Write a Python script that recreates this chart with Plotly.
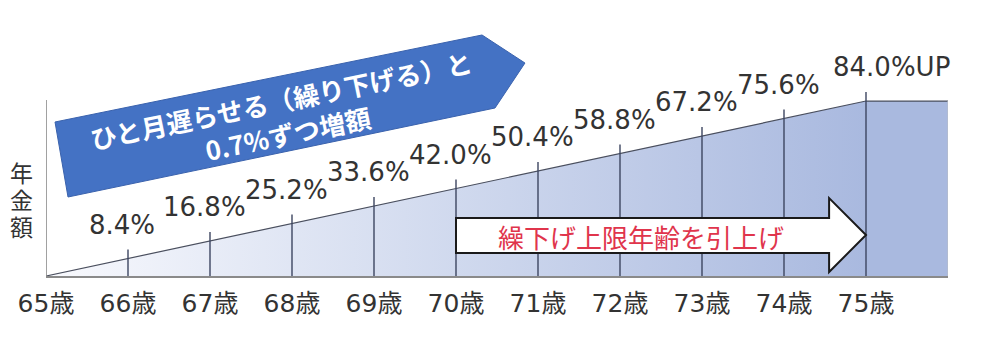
import plotly.graph_objects as go

ages = [65, 66, 67, 68, 69, 70, 71, 72, 73, 74, 75]
end_age = 76
values = [0, 8.4, 16.8, 25.2, 33.6, 42.0, 50.4, 58.8, 67.2, 75.6, 84.0]
tick_text = [f"{a}歳" for a in ages]
pct_labels = ["8.4%", "16.8%", "25.2%", "33.6%", "42.0%", "50.4%",
              "58.8%", "67.2%", "75.6%", "84.0%UP"]
banner_text = "ひと月遅らせる（繰り下げる）と<br>0.7%ずつ増額"
arrow_text = "繰下げ上限年齢を引上げ"
ytitle_chars = ["年", "金", "額"]

W, H = 988, 348
L, R, T, B = 46, 40, 0, 72
YMAX = 132.5

FONT = "DejaVu Sans, Noto Sans CJK JP, sans-serif"
CJK = "Noto Sans CJK JP, sans-serif"

fig = go.Figure()

# filled area with gradient
fx = ages + [end_age]
fy = values + [values[-1]]
fig.add_trace(go.Scatter(
    x=fx, y=fy, mode="lines", fill="tozeroy",
    line=dict(color="#4a4f5e", width=1.2),
    fillgradient=dict(type="horizontal", start=65, stop=75,
                      colorscale=[[0, "#f8f9fd"], [0.5, "#d0d9ee"], [1, "#a9b9df"]]),
    hoverinfo="skip", showlegend=False))

# right edge of area
fig.add_trace(go.Scatter(x=[end_age, end_age], y=[0, values[-1]], mode="lines",
                         line=dict(color="#b8bcc8", width=1.2),
                         hoverinfo="skip", showlegend=False))

# vertical lines at each year
vx, vy = [], []
for a, v in zip(ages[1:], values[1:]):
    vx += [a, a, None]
    vy += [0, v + 4.3, None]
fig.add_trace(go.Scatter(x=vx, y=vy, mode="lines",
                         line=dict(color="#3d4560", width=1.4),
                         hoverinfo="skip", showlegend=False))

# y axis line
fig.add_trace(go.Scatter(x=[65, 65], y=[0, 84.5], mode="lines",
                         line=dict(color="#8a8a8a", width=1.6),
                         hoverinfo="skip", showlegend=False))

# percentage labels
for i, (a, v, t) in enumerate(zip(ages[1:], values[1:], pct_labels)):
    last = i == len(pct_labels) - 1
    fig.add_annotation(x=a, y=v, text=t, showarrow=False,
                       xanchor="left" if last else "center", yanchor="middle",
                       xshift=-35 if last else -6, yshift=34,
                       font=dict(family=FONT, size=26, color="#333333"))

def px2paper(px, py):
    return (px - L) / (W - L - R), (H - B - py) / (H - T - B)

# blue banner
pts = [(55, 122), (482, 35), (525, 63), (495, 108), (68, 197)]
pp = [px2paper(*p) for p in pts]
path = "M " + " L ".join(f"{x:.4f},{y:.4f}" for x, y in pp) + " Z"
fig.add_shape(type="path", path=path, xref="paper", yref="paper",
              fillcolor="#4472c4", line=dict(color="#3a62ad", width=1), layer="above")
bx, by = px2paper(284, 116)
fig.add_annotation(x=bx, y=by, xref="paper", yref="paper", text=banner_text,
                   showarrow=False, textangle=-11.6, xanchor="center", yanchor="middle",
                   font=dict(family=CJK, size=26, color="white", weight="bold"))

# white arrow (age 70 -> 75)
ax0, ahead, atip = 70, 74.55, 75
btop, bbot, htop, hbot, tipy = 27.8, 11.0, 37.4, 1.9, 19.7
apath = (f"M {ax0},{btop} L {ahead},{btop} L {ahead},{htop} L {atip},{tipy} "
         f"L {ahead},{hbot} L {ahead},{bbot} L {ax0},{bbot} Z")
fig.add_shape(type="path", path=apath, xref="x", yref="y",
              fillcolor="white", line=dict(color="#1a1a1a", width=2), layer="above")
fig.add_annotation(x=72.26, y=19.0, text=arrow_text, showarrow=False,
                   font=dict(family=CJK, size=26, color="#e0354c"))

# y title (vertical, one character per line)
for k, ch in enumerate(ytitle_chars):
    tx, ty = px2paper(21, 172 + 27 * k)
    fig.add_annotation(x=tx, y=ty, xref="paper", yref="paper", text=ch,
                       showarrow=False, xanchor="center", yanchor="middle",
                       font=dict(family=CJK, size=23, color="#333333"))

fig.update_layout(
    width=W, height=H, margin=dict(l=L, r=R, t=T, b=B),
    paper_bgcolor="white", plot_bgcolor="white", showlegend=False,
    xaxis=dict(range=[65, end_age], tickmode="array", tickvals=ages, ticktext=tick_text,
               showgrid=False, zeroline=False, showline=True, linecolor="#8a8a8a",
               linewidth=1.6, ticks="", ticklabelstandoff=4,
               tickfont=dict(family=FONT, size=25, color="#333333")),
    yaxis=dict(range=[0, YMAX], showgrid=False, zeroline=False, showline=False,
               showticklabels=False, ticks=""),
)

fig.write_html("out.html")
